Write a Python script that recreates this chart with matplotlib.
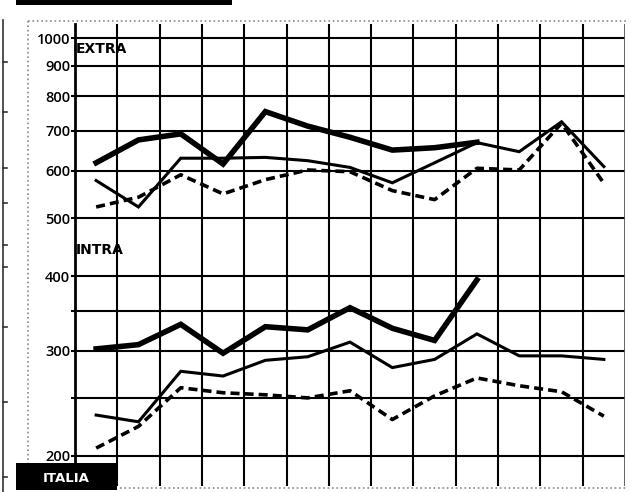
import matplotlib
matplotlib.use("Agg")
import matplotlib.pyplot as plt
from matplotlib.lines import Line2D
from matplotlib.patches import Rectangle

# ---- data ----
periods = list(range(13))
extra_current = [619, 676, 692, 616, 754, 713, 683, 650, 656, 670]
extra_prev = [578, 522, 630, 630, 632, 624, 608, 573, 619, 669, 646, 725, 610]
extra_old = [522, 542, 591, 549, 580, 602, 598, 556, 537, 606, 602, 721, 572]

intra_current = [302, 307, 332, 297, 329, 325, 354, 327, 312, 394]
intra_prev = [234, 228, 277, 272, 289, 293, 310, 281, 290, 320, 294, 294, 290]
intra_old = [206, 224, 260, 255, 253, 250, 257, 230, 252, 270, 262, 256, 233]

grid_values = [200, 250, 300, 350, 400, 500, 600, 700, 800, 900, 1000]
tick_labels = ["200", "", "300", "", "400", "500", "600", "700", "800", "900", "1000"]

W, H = 642, 492
fig = plt.figure(figsize=(W / 100, H / 100), dpi=100)
fig.patch.set_facecolor("white")

def fx(x):
    return x / W

def fy(y):
    return 1 - y / H

ax_left, ax_right, ax_top, ax_bot = 75, 625, 24, 486
ax = fig.add_axes([fx(ax_left), fy(ax_bot), (ax_right - ax_left) / W, (ax_bot - ax_top) / H])
ax.set_yscale("log")
ax.set_ylim(178, 1057)
ax.set_xlim(-0.5, 12.5)
ax.minorticks_off()

# grid
for v in grid_values:
    ax.axhline(v, color="black", lw=1.5, zorder=1)
for k in range(1, 13):
    ax.axvline(-0.5 + k, color="black", lw=1.5, zorder=1)
ax.axvline(12.5, color="#555555", lw=2.0, zorder=1)

for s in ["top", "right", "bottom"]:
    ax.spines[s].set_visible(False)
ax.spines["left"].set_linewidth(2.0)
ax.spines["left"].set_bounds(195, 1057)

ax.set_xticks([])
ax.set_yticks(grid_values)
ax.set_yticklabels(tick_labels)
ax.tick_params(axis="y", direction="out", length=3, width=1.5, pad=0.5,
               labelsize=10.5, labelcolor="black")
for t in ax.get_yticklabels():
    t.set_family("Open Sans")
    t.set_fontweight("semibold")

# series
thick = dict(color="black", lw=4.0, solid_joinstyle="miter", zorder=4)
thin = dict(color="black", lw=2.2, solid_joinstyle="miter", zorder=3)
dashed = dict(color="black", lw=2.6, linestyle=(0, (2.5, 1.4)), dash_capstyle="butt", zorder=3)

ax.plot(periods[:len(extra_current)], extra_current, **thick)
ax.plot(periods, extra_prev, **thin)
ax.plot(periods, extra_old, **dashed)

ax.plot(periods[:len(intra_current)], intra_current, **thick)
ax.plot(periods, intra_prev, **thin)
ax.plot(periods, intra_old, **dashed)

# labels inside the chart
ax.text(-0.48, 985, "EXTRA", fontsize=10, fontweight="bold", family="DejaVu Sans",
        va="top", ha="left", zorder=5)
ax.text(-0.48, 455, "INTRA", fontsize=10, fontweight="bold", family="DejaVu Sans",
        va="top", ha="left", zorder=5)

# decorations
fig.add_artist(Rectangle((fx(16), fy(5)), (232 - 16) / W, 5 / H, transform=fig.transFigure,
                         color="black", lw=0))
fig.add_artist(Rectangle((fx(16), fy(490)), (117 - 16) / W, (490 - 463) / H,
                         transform=fig.transFigure, color="black", lw=0, zorder=6))
fig.text(fx(66), fy(478), "ITALIA", color="white", fontsize=9.5, fontweight="bold",
         family="DejaVu Sans", ha="center", va="center", zorder=7)

# dotted outer frame
frame = dict(transform=fig.transFigure, color="#8a8a8a", lw=1.2, linestyle=":")
fig.add_artist(Line2D([fx(28), fx(627)], [fy(21), fy(21)], **frame))
fig.add_artist(Line2D([fx(28), fx(28)], [fy(21), fy(490)], **frame))
fig.add_artist(Line2D([fx(120), fx(627)], [fy(488), fy(488)], **frame))

# neighbouring chart edge at far left
fig.add_artist(Line2D([fx(3), fx(3)], [fy(20), fy(492)], transform=fig.transFigure,
                      color="#333333", lw=1.2))
for yy in [62, 112, 168, 203, 245, 267, 327, 402, 477]:
    fig.add_artist(Line2D([fx(3), fx(7)], [fy(yy), fy(yy)], transform=fig.transFigure,
                          color="#333333", lw=1.2))

fig.savefig("out.png", dpi=100)
